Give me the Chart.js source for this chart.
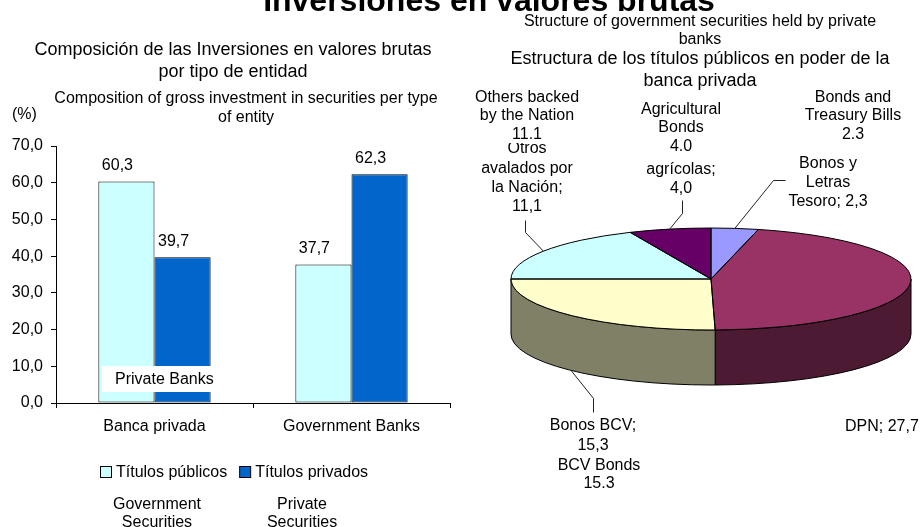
<!DOCTYPE html>
<html><head><meta charset="utf-8">
<script src="https://cdn.jsdelivr.net/npm/chart.js@4.4.1/dist/chart.umd.min.js"></script>
<style>
html,body{margin:0;padding:0;background:#fff;width:920px;height:527px;overflow:hidden;}
body{position:relative;font-family:"Liberation Sans",Arial,Helvetica,sans-serif;color:#000;}
#barWrap{position:absolute;left:0;top:0;width:460px;height:527px;}
#pieWrap{position:absolute;left:460px;top:0;width:460px;height:527px;}
.t{position:absolute;white-space:pre;text-align:center;transform:translateX(-50%);}
#pb{position:absolute;left:102px;top:366px;width:98px;height:26px;padding-left:13px;background:#fff;font-size:16px;line-height:26px;white-space:nowrap;}
</style></head><body>
<div id="barWrap"><canvas id="bar" width="460" height="527"></canvas></div>
<div id="pieWrap"><canvas id="pie" width="460" height="527"></canvas></div>
<script>
// ---------- data ----------
const barCategories = ['Banca privada', 'Government Banks'];
const barSeriesNames = ['Títulos públicos', 'Títulos privados'];
const titulosPublicos = [60.3, 37.7];
const titulosPrivados = [39.7, 62.3];
const yTickMin = 0, yTickMax = 70, yTickStep = 10;

const pieLabels = ['Bonos y Letras Tesoro', 'DPN', 'Bonos BCV', 'Otros avalados por la Nación', 'Bonos agrícolas'];
const pieValues = [2.3, 27.7, 15.3, 11.1, 4.0];

// ---------- styles ----------
const FONT = '"Liberation Sans", Arial, Helvetica, sans-serif';
const barColors = ['#CCFFFF', '#0066CC'];
const pieColors = ['#9999FF', '#993366', '#FFFFCC', '#CCFFFF', '#660066'];
function shade(hex, f) {
  const n = parseInt(hex.slice(1), 16);
  const r = Math.round(((n >> 16) & 255) * f), g = Math.round(((n >> 8) & 255) * f), b = Math.round((n & 255) * f);
  return 'rgb(' + r + ',' + g + ',' + b + ')';
}
const pieSideColors = pieColors.map(c => shade(c, 0.5));
const fmtComma = v => v.toFixed(1).replace('.', ',');

// ---------- text helpers ----------
function addText(text, cx, cy, size, lh, opts) {
  opts = opts || {};
  const d = document.createElement('div');
  d.className = 't';
  d.style.left = cx + 'px';
  d.style.top = (cy - lh / 2) + 'px';
  d.style.fontSize = size + 'px';
  d.style.lineHeight = lh + 'px';
  if (opts.bold) d.style.fontWeight = 'bold';
  if (opts.bg) d.style.background = opts.bg;
  if (opts.left) { d.style.transform = 'none'; d.style.textAlign = 'left'; }
  d.textContent = text;
  document.body.appendChild(d);
}

// ---------- bar chart ----------
const barValueLabels = {
  id: 'barValueLabels',
  afterDatasetsDraw(chart) {
    const ctx = chart.ctx; ctx.save();
    ctx.font = '16px ' + FONT; ctx.fillStyle = '#000';
    ctx.textAlign = 'center'; ctx.textBaseline = 'middle';
    chart.data.datasets.forEach((ds, i) => {
      chart.getDatasetMeta(i).data.forEach((bar, j) => {
        ctx.fillText(fmtComma(ds.data[j]), bar.x - 9, bar.y - 16);
      });
    });
    ctx.restore();
  }
};
const barLegend = {
  id: 'barLegend',
  afterDraw(chart) {
    const ctx = chart.ctx; ctx.save();
    ctx.font = '16px ' + FONT; ctx.textBaseline = 'middle'; ctx.textAlign = 'left';
    let x = 100; const y = 472;
    chart.data.datasets.forEach(ds => {
      ctx.fillStyle = ds.backgroundColor;
      ctx.fillRect(x + 0.5, y - 6 + 0.5, 11, 11);
      ctx.strokeStyle = '#000'; ctx.lineWidth = 1;
      ctx.strokeRect(x + 0.5, y - 6 + 0.5, 11, 11);
      ctx.fillStyle = '#000';
      ctx.fillText(ds.label, x + 16, y + 1);
      x += 16 + ctx.measureText(ds.label).width + 12;
    });
    ctx.restore();
  }
};

new Chart(document.getElementById('bar'), {
  type: 'bar',
  data: {
    labels: barCategories,
    datasets: [
      { label: barSeriesNames[0], data: titulosPublicos, backgroundColor: barColors[0], borderColor: '#000', borderWidth: 1, borderSkipped: false },
      { label: barSeriesNames[1], data: titulosPrivados, backgroundColor: barColors[1], borderColor: '#000', borderWidth: 1, borderSkipped: false }
    ]
  },
  options: {
    responsive: false, animation: false,
    layout: { padding: { left: 0, top: 146, right: 10, bottom: 0 } },
    datasets: { bar: { categoryPercentage: 0.57, barPercentage: 1 } },
    plugins: { legend: { display: false }, tooltip: { enabled: false } },
    scales: {
      x: {
        grid: { drawOnChartArea: false, drawTicks: true, tickLength: 5, color: '#000', offset: true },
        border: { color: '#000' },
        ticks: { color: '#000', font: { size: 16, family: FONT }, padding: 9, maxRotation: 0 },
        afterFit(s) { s.height = 124; }
      },
      y: {
        min: yTickMin, max: yTickMax,
        ticks: { stepSize: yTickStep, color: '#000', font: { size: 16, family: FONT }, padding: 8, callback: v => fmtComma(v) },
        grid: { drawOnChartArea: false, tickLength: 5, color: '#000' },
        border: { color: '#000' },
        afterFit(s) { s.width = 56; }
      }
    }
  },
  plugins: [barValueLabels, barLegend]
});

// ---------- 3D pie ----------
const PIE_TILT = 0.255, PIE_DEPTH = 55;
// leader-line routing (layout only), by slice index, in canvas px
const pieLeaderRoutes = {
  0: [[313, 180], [325, 180]],
  2: [[133, 398], [133, 412]],
  3: [[65, 232], [65, 220]],
  4: [[222, 213], [222, 200]]
};
const pie3d = {
  id: 'pie3d',
  beforeDatasetsDraw(chart) {
    const ctx = chart.ctx; const arcs = chart.getDatasetMeta(0).data;
    ctx.save(); ctx.lineWidth = 1; ctx.strokeStyle = '#000';
    arcs.forEach((a, i) => {
      const s = Math.max(a.startAngle, 0), e = Math.min(a.endAngle, Math.PI);
      if (e <= s) return;
      const rx = a.outerRadius, ry = rx * PIE_TILT;
      ctx.beginPath();
      ctx.ellipse(a.x, a.y, rx, ry, 0, s, e, false);
      ctx.lineTo(a.x + rx * Math.cos(e), a.y + ry * Math.sin(e) + PIE_DEPTH);
      ctx.ellipse(a.x, a.y + PIE_DEPTH, rx, ry, 0, e, s, true);
      ctx.closePath();
      ctx.fillStyle = pieSideColors[i]; ctx.fill(); ctx.stroke();
    });
    ctx.restore();
    const cx = arcs[0].x, cy = arcs[0].y;
    ctx.save();
    ctx.translate(cx, cy); ctx.scale(1, PIE_TILT); ctx.translate(-cx, -cy);
  },
  afterDatasetsDraw(chart) {
    const ctx = chart.ctx; ctx.restore();
    const arcs = chart.getDatasetMeta(0).data;
    ctx.save(); ctx.lineWidth = 1; ctx.strokeStyle = '#000';
    arcs.forEach(a => {
      const rx = a.outerRadius, ry = rx * PIE_TILT;
      ctx.beginPath();
      ctx.moveTo(a.x, a.y);
      ctx.ellipse(a.x, a.y, rx, ry, 0, a.startAngle, a.endAngle, false);
      ctx.closePath(); ctx.stroke();
    });
    ctx.strokeStyle = '#222';
    arcs.forEach((a, i) => {
      const route = pieLeaderRoutes[i]; if (!route) return;
      const rx = a.outerRadius, ry = rx * PIE_TILT;
      const m = (a.startAngle + a.endAngle) / 2;
      const px = a.x + rx * Math.cos(m);
      const py = a.y + ry * Math.sin(m) + (Math.sin(m) > 0 ? PIE_DEPTH : 0);
      ctx.beginPath(); ctx.moveTo(px, py);
      route.forEach(p => ctx.lineTo(p[0] + 0.5, p[1] + 0.5));
      ctx.stroke();
    });
    ctx.restore();
  }
};
new Chart(document.getElementById('pie'), {
  type: 'pie',
  data: { labels: pieLabels, datasets: [{ data: pieValues, backgroundColor: pieColors, borderWidth: 0 }] },
  options: {
    responsive: false, animation: false,
    layout: { padding: { left: 51, right: 9, top: 79, bottom: 48 } },
    plugins: { legend: { display: false }, tooltip: { enabled: false } }
  },
  plugins: [pie3d]
});

// ---------- text ----------
addText('Inversiones en valores brutas', 489, 0, 32, 36, { bold: true });
addText('Composición de las Inversiones en valores brutas\npor tipo de entidad', 233, 49, 18, 22);
addText('Composition of gross investment in securities per type\nof entity', 246, 97, 16, 19);
addText('(%)', 12, 113, 16, 19, { left: true });
addText('Government\nSecurities', 157, 504, 16, 18);
addText('Private\nSecurities', 302, 504, 16, 18);
const pb = document.createElement('div'); pb.id = 'pb'; pb.textContent = 'Private Banks'; document.body.appendChild(pb);

addText('Structure of government securities held by private\nbanks', 700, 21, 16, 18);
addText('Estructura de los títulos públicos en poder de la\nbanca privada', 700, 58, 18, 22);
addText('Otros\navalados por\nla Nación;\n' + fmtComma(pieValues[3]), 527, 148, 16, 19.3);
addText('Others backed\nby the Nation\n' + pieValues[3].toFixed(1), 527, 97, 16, 18.5, { bg: '#fff' });
addText('Bonos\nagrícolas;\n' + fmtComma(pieValues[4]), 681, 149, 16, 19);
addText('Agricultural\nBonds\n' + pieValues[4].toFixed(1), 681, 109, 16, 18.5, { bg: '#fff' });
addText('Bonds and\nTreasury Bills\n' + pieValues[0].toFixed(1), 853, 97, 16, 18.5);
addText('Bonos y\nLetras\nTesoro; ' + fmtComma(pieValues[0]), 828, 162, 16, 19);
addText('Bonos BCV;\n' + fmtComma(pieValues[2]), 593, 425, 16, 20);
addText('BCV Bonds\n' + pieValues[2].toFixed(1), 599, 465, 16, 18.5);
addText('DPN; ' + fmtComma(pieValues[1]), 845, 425, 16, 19, { left: true });
</script>
</body></html>
